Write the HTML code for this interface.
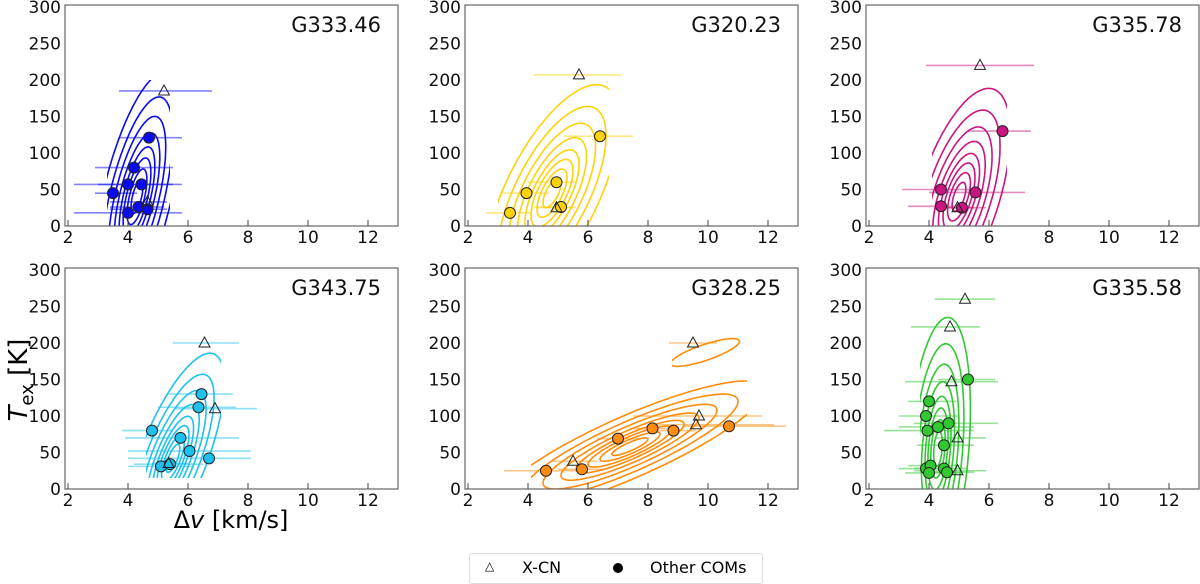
<!DOCTYPE html>
<html><head><meta charset="utf-8">
<style>
body{margin:0;background:#fff;}
svg{display:block;font-family:"DejaVu Sans","Liberation Sans",sans-serif;}
</style></head>
<body>
<svg id="fig" width="1200" height="584" viewBox="0 0 1200 584"></svg>
<script>
const panelNames = ["G333.46","G320.23","G335.78","G343.75","G328.25","G335.58"];
const panelColors = ["#0a0aef","#ffd20a","#c8157f","#1ec0ee","#ff8c0a","#32c832"];
const xTicks = [2,4,6,8,10,12];
const yTicks = [0,50,100,150,200,250,300];
// circle points per panel: [dv, Tex, lo, hi]
const comsP1 = [[3.5,45,2.9,4.3],[4.0,57,2.2,5.8],[4.45,57,3.0,5.5],[4.2,80,2.9,5.5],[4.7,121,3.7,5.8],[4.0,18,2.2,5.8],[4.35,26,3.4,5.2],[4.65,23,3.4,5.3]];
const comsP2 = [[3.4,18,2.6,4.1],[3.95,45,3.1,4.7],[4.95,60,4.0,5.6],[5.1,26,4.2,5.6],[6.4,123,5.2,7.5]];
const comsP3 = [[4.4,50,3.1,5.7],[5.55,46,4.0,7.2],[4.4,27,3.3,5.0],[5.1,25,4.4,5.9],[6.45,130,5.3,7.4]];
const comsP4 = [[4.8,80,3.8,5.5],[5.75,70,3.9,7.7],[6.45,130,5.3,7.5],[6.35,112,5.0,7.6],[6.05,52,4.0,8.1],[6.7,42,4.0,8.1],[5.1,31,4.0,6.2],[5.4,34,4.2,6.5]];
const comsP5 = [[4.6,25,3.2,5.9],[5.8,27,5.0,6.5],[7.0,69,6.3,7.7],[8.15,83,7.4,8.8],[8.85,80,8.2,9.6],[10.7,86,9.2,12.6]];
const comsP6 = [[3.9,28,3.0,4.6],[4.05,32,3.3,5.0],[4.0,22,3.2,5.1],[4.5,28,3.5,5.3],[4.6,23,3.7,5.5],[4.5,60,3.6,5.5],[3.95,80,2.5,5.5],[4.3,85,3.0,5.5],[4.65,90,3.5,6.3],[3.9,100,3.0,5.0],[4.0,120,3.3,4.9],[5.3,150,4.3,6.2]];
// triangles (X-CN)
const xcnP1 = [[5.2,185,3.7,6.8],[4.65,33,3.4,5.3]];
const xcnP2 = [[5.7,207,4.2,7.1],[4.95,25,4.3,5.5]];
const xcnP3 = [[5.7,220,3.9,7.5],[4.95,25,4.4,5.5]];
const xcnP4 = [[6.55,200,5.5,7.7],[6.9,110,5.6,8.3],[5.35,35,4.8,6.0]];
const xcnP5 = [[5.5,38,4.8,6.3],[9.5,200,8.7,10.3],[9.7,100,7.5,11.8],[9.6,88,8.0,12.2]];
const xcnP6 = [[5.2,260,4.2,6.2],[4.7,222,3.4,5.7],[4.75,147,3.2,6.3],[4.95,70,4.2,5.9],[4.95,25,3.5,5.9]];
// density contour families: [cx, cy, a(dv), b(T), rho, gridXmin, gridXmax, gridYmin, gridYmax, nLevels]
const kdeP1 = [[4.3,40,0.33,38,0.62,3.3,5.4,0,200,8]];
const kdeP2 = [[4.8,45,0.5,33,0.66,3.0,6.7,0,225,8]];
const kdeP3 = [[5.0,40,0.38,33,0.58,4.1,6.6,0,240,8]];
const kdeP4 = [[5.5,42,0.38,32,0.72,4.6,7.1,15,215,8]];
const kdeP5 = [[7.4,58,1.0,20,0.86,4.1,11.3,0,160,8],[9.9,187,1.15,19,0.8,8.8,11.4,140,225,1]];
const kdeP6 = [[4.3,55,0.24,40,0.3,3.7,5.5,0,285,8]];
const levels = [0.6,1.0,1.4,1.8,2.3,2.9,3.6,4.5];

const allComs=[comsP1,comsP2,comsP3,comsP4,comsP5,comsP6];
const allXcn=[xcnP1,xcnP2,xcnP3,xcnP4,xcnP5,xcnP6];
const allKde=[kdeP1,kdeP2,kdeP3,kdeP4,kdeP5,kdeP6];

const NS="http://www.w3.org/2000/svg";
const svg=document.getElementById('fig');
function mk(tag,attrs,parent){const e=document.createElementNS(NS,tag);for(const k in attrs)e.setAttribute(k,attrs[k]);(parent||svg).appendChild(e);return e;}
const colLeft=[65,465,866], rowBottom=[226,489], W=333, H=221;

for(let p=0;p<6;p++){
  const L=colLeft[p%3], B=rowBottom[Math.floor(p/3)];
  const xs=v=>L+3+(v-2)*30;
  const ys=v=>B-v*0.73;
  const g=mk('g',{});
  
  
  const cid='clip'+p;
  const cp=mk('clipPath',{id:cid},g);mk('rect',{x:L,y:B-H,width:W,height:H},cp);
  const plot=mk('g',{'clip-path':'url(#'+cid+')'},g);
  const col=panelColors[p];
  // contours
  allKde[p].forEach((k,ki)=>{
    const kid='kclip'+p+'_'+ki;
    const kc=mk('clipPath',{id:kid},g);
    mk('rect',{x:xs(k[5]),y:ys(k[8]),width:xs(k[6])-xs(k[5]),height:ys(k[7])-ys(k[8])},kc);
    const kg=mk('g',{'clip-path':'url(#'+kid+')'},plot);
    const lv = k[9]===1?[1.0]:levels.slice(0,k[9]);
    lv.forEach(s=>{
      let d='';
      for(let i=0;i<=160;i++){
        const t=i/160*Math.PI*2;
        const x=k[0]+k[2]*s*Math.cos(t);
        const y=k[1]+k[3]*s*(k[4]*Math.cos(t)+Math.sqrt(1-k[4]*k[4])*Math.sin(t));
        d+=(i?'L':'M')+xs(x).toFixed(1)+' '+ys(y).toFixed(1);
      }
      const c=mk('path',{d:d,fill:'none',stroke:col,'stroke-width':1.6},kg);
      
      
    });
  });
  // error bars
  allComs[p].concat(allXcn[p]).forEach(pt=>{
    const e=mk('line',{x1:xs(pt[2]),x2:xs(pt[3]),y1:ys(pt[1]),y2:ys(pt[1]),stroke:col,'stroke-opacity':0.5,'stroke-width':1.6},plot);
    
    
  });
  allComs[p].forEach(pt=>{
    const c=mk('circle',{cx:xs(pt[0]),cy:ys(pt[1]),r:5.5,fill:col,stroke:'#222','stroke-width':1},plot);
    
    
  });
  allXcn[p].forEach(pt=>{
    const x=xs(pt[0]),y=ys(pt[1]);
    const t=mk('polygon',{points:`${x},${y-6} ${x-5.5},${y+4} ${x+5.5},${y+4}`,fill:'none',stroke:'#222','stroke-width':1},plot);
    
    
  });
  // frame
  const fr=mk('rect',{x:L,y:B-H,width:W,height:H,fill:'none',stroke:'#666','stroke-width':1.2},g);
  
  
  xTicks.forEach(v=>{
    mk('line',{x1:xs(v),x2:xs(v),y1:B,y2:B-6,stroke:'#444','stroke-width':1},g);
    const tl=mk('text',{x:xs(v),y:B+17,'text-anchor':'middle','font-size':17,fill:'#111'},g);
    tl.textContent=v;
    
    
  });
  yTicks.forEach(v=>{
    const tl=mk('text',{x:L-4,y:ys(v)+6,'text-anchor':'end','font-size':17,fill:'#111'},g);
    tl.textContent=v;
    
    
  });
  const tt=mk('text',{x:L+W-17,y:B-H+27,'text-anchor':'end','font-size':21,fill:'#111'},g);
  tt.textContent=panelNames[p];
  
  
}
</script>
<div style="position:absolute;left:4px;top:380px;transform-origin:0 0;transform:rotate(-90deg) translate(-50%,0);font:26px 'DejaVu Sans','Liberation Sans',sans-serif;white-space:nowrap;"><i>T</i><span style="font-size:18px;position:relative;top:6px">ex</span> [K]</div>
<div style="position:absolute;left:0;top:506px;width:462px;text-align:center;font:24px 'DejaVu Sans','Liberation Sans',sans-serif;">Δ<i>v</i> [km/s]</div>
<div style="position:absolute;left:469px;top:553px;width:292px;height:29px;border:1px solid #ddd;border-radius:3px;font:16px 'DejaVu Sans','Liberation Sans',sans-serif;">
  <span style="position:absolute;left:15px;top:5px;font-size:12px">△</span>
  <span style="position:absolute;left:52px;top:4px;">X-CN</span>
  <span style="position:absolute;left:143px;top:9px;width:10px;height:10px;border-radius:50%;background:#000"></span>
  <span style="position:absolute;left:180px;top:4px;">Other COMs</span>
</div>
</body></html>
